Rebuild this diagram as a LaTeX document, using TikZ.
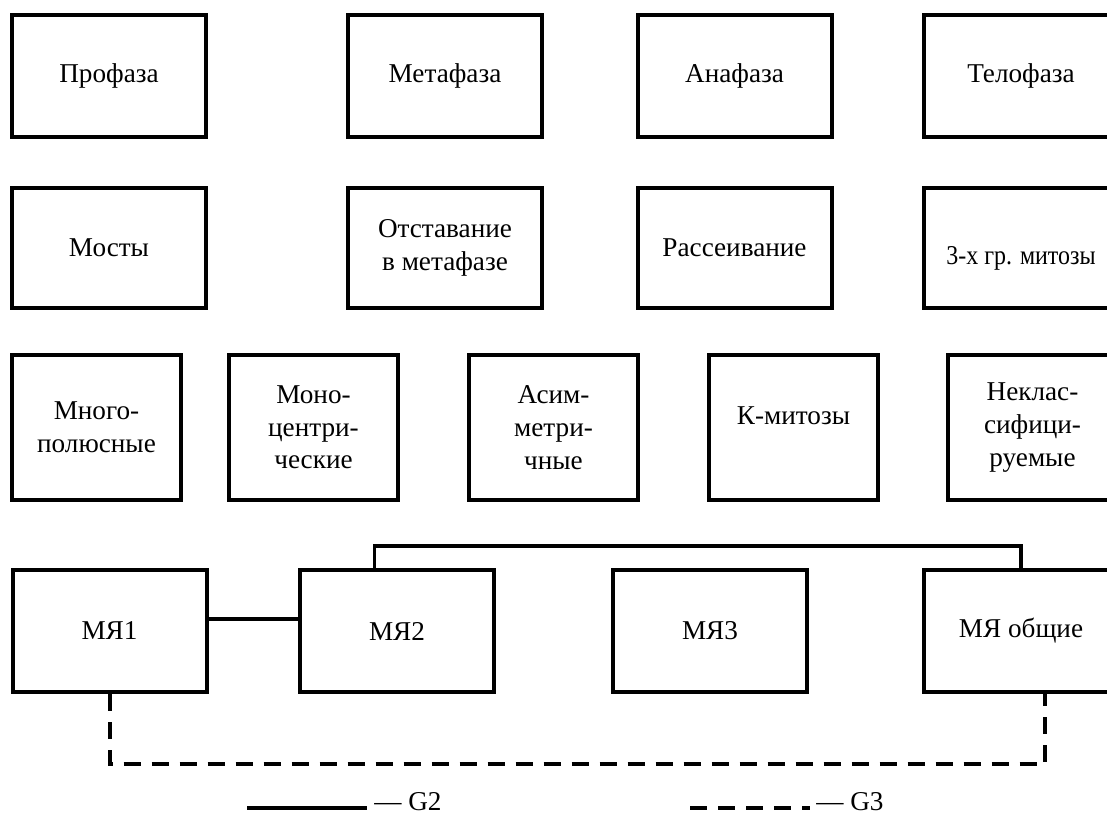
\documentclass[tikz,border=0pt]{standalone}
\usepackage{fontspec}
\setmainfont{Liberation Serif}
\begin{document}
\begin{tikzpicture}[x=0.75pt, y=-0.75pt, box/.style={draw,line width=3pt,minimum width=145.5pt,minimum height=91.5pt,align=center,inner sep=2pt,font=\fontsize{20.4}{24.5}\selectfont}, tallbox/.style={box,minimum width=126.75pt,minimum height=108.75pt}, link/.style={line width=2.5pt}, g3/.style={line width=3pt,dash pattern=on 12.75pt off 8.25pt}, legend/.style={inner sep=0pt,anchor=base west,font=\fontsize{20.4}{24.5}\selectfont}]
\useasboundingbox (0,0) rectangle (1107,814);
\node[box] (pro) at (109,76) {Профаза};
\node[box] (meta) at (445,76) {Метафаза};
\node[box] (ana) at (734.5,76) {Анафаза};
\node[box] (telo) at (1021,76) {Телофаза};
\node[box,minimum height=90pt] (mosty) at (109,248) {Мосты};
\node[box,minimum height=90pt] (otst) at (445,248) {Отставание\\в метафазе};
\node[box,minimum height=90pt] (rass) at (734.5,248) {Рассеивание};
\node[box,minimum height=90pt] (tri) at (1021,248) {\raisebox{-12pt}[0pt][0pt]{\scalebox{0.88}[1]{3-х гр. митозы}}};
\node[tallbox] (mnogo) at (96.5,427.5) {Много-\\полюсные};
\node[tallbox] (mono) at (313.5,427.5) {Моно-\\центри-\\ческие};
\node[tallbox] (asim) at (553.5,427.5) {Асим-\\метри-\\чные};
\node[tallbox] (kmit) at (793.5,427.5) {\raisebox{2.5pt}[0pt][0pt]{К-митозы}};
\node[tallbox] (nekl) at (1032.5,427.5) {Неклас-\\сифици-\\руемые};
\node[box] (m1) at (109.5,631) {МЯ1};
\node[box] (m2) at (397,631) {МЯ2};
\node[box] (m3) at (710,631) {МЯ3};
\node[box] (mall) at (1021,631) {МЯ общие};
\draw[link] ([yshift=9pt]m1.east) -- ([yshift=9pt]m2.west);
\draw[link] ([xshift=-17pt]m2.north) -- ++(0,-22) -| (mall.north);
\draw[g3] (m1.south) -- ++(0,70) -| ([xshift=18pt]mall.south);
\node[legend] (g2txt) at (374,810) {— G2};
\node[legend] (g3txt) at (816,810) {— G3};
\coordinate (g2a) at (247,808);
\coordinate (g2b) at (367,808);
\coordinate (g3a) at (690,808);
\coordinate (g3b) at (810,808);
\draw[line width=3pt] (g2a) -- (g2b);
\draw[g3] (g3a) -- (g3b);
\end{tikzpicture}
\end{document}
